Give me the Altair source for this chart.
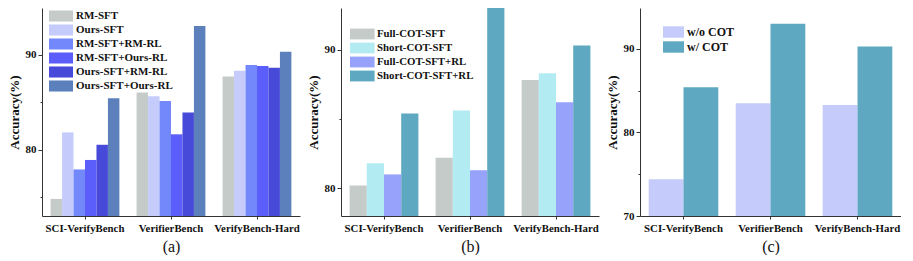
import altair as alt
import pandas as pd

categories = ["SCI-VerifyBench", "VerifierBench", "VerifyBench-Hard"]

a_series = ["RM-SFT", "Ours-SFT", "RM-SFT+RM-RL", "RM-SFT+Ours-RL", "Ours-SFT+RM-RL", "Ours-SFT+Ours-RL"]
a_colors = ["#C4CBC9", "#C5CCFB", "#7388FB", "#5B5EFA", "#4749D9", "#5C80BB"]
a_values = [
    [74.8, 86.0, 87.7],
    [81.8, 85.6, 88.3],
    [77.9, 85.1, 88.9],
    [78.9, 81.6, 88.8],
    [80.5, 83.9, 88.6],
    [85.4, 93.0, 90.3],
]

b_series = ["Full-COT-SFT", "Short-COT-SFT", "Full-COT-SFT+RL", "Short-COT-SFT+RL"]
b_colors = ["#C4CBC9", "#B3EBF2", "#97A3FB", "#5EA8C1"]
b_values = [
    [80.2, 82.2, 87.8],
    [81.8, 85.6, 88.3],
    [81.0, 81.3, 86.2],
    [85.4, 93.0, 90.3],
]

c_series = ["w/o COT", "w/ COT"]
c_colors = ["#C5CCFB", "#5EA8C1"]
c_values = [
    [74.4, 83.5, 83.3],
    [85.4, 93.0, 90.3],
]

SERIF = "Liberation Serif"
AXIS_COLOR = "#333333"


def make_df(series, values):
    rows = []
    for s, vals in zip(series, values):
        for cat, v in zip(categories, vals):
            rows.append({"category": cat, "series": s, "value": v})
    return pd.DataFrame(rows)


def panel(series, colors, values, domain, tick_vals, label, legend_cfg, width=258):
    df = make_df(series, values)
    y_axis = alt.Axis(
        title="Accuracy(%)",
        values=tick_vals,
        labelExpr="datum.value % 10 === 0 ? datum.label : ''",
        tickSize={"condition": {"test": "datum.value % 10 === 0", "value": 4}, "value": 2},
        grid=False,
        labelFont=SERIF, labelFontWeight="bold", labelFontSize=11, labelColor="#111",
        titleFont=SERIF, titleFontWeight="bold", titleFontSize=13, titleColor="#111",
        labelPadding=2, titlePadding=4,
        domainColor=AXIS_COLOR, tickColor=AXIS_COLOR,
    )
    x_axis = alt.Axis(
        title=label, labelAngle=0, grid=False,
        labelFont=SERIF, labelFontWeight="bold", labelFontSize=10.8, labelColor="#111",
        titleFont=SERIF, titleFontWeight="normal", titleFontSize=16, titleColor="#111",
        labelPadding=3, titlePadding=6, tickSize=3,
        domainColor=AXIS_COLOR, tickColor=AXIS_COLOR,
    )
    legend = alt.Legend(
        title=None, orient="none",
        legendX=legend_cfg["x"], legendY=legend_cfg["y"],
        symbolType=legend_cfg["path"], symbolSize=144, symbolStrokeWidth=0,
        symbolOpacity=1,
        labelFont=SERIF, labelFontWeight="bold", labelFontSize=legend_cfg["fs"],
        labelColor="#111", labelOffset=legend_cfg["lo"], rowPadding=legend_cfg["rp"],
        padding=0,
    )
    return alt.Chart(df).mark_bar().encode(
        x=alt.X("category:N", sort=categories,
                scale=alt.Scale(paddingInner=0.2, paddingOuter=0.1), axis=x_axis),
        xOffset=alt.XOffset("series:N", sort=series,
                            scale=alt.Scale(domain=series, paddingInner=0, paddingOuter=0)),
        y=alt.Y("value:Q", scale=alt.Scale(domain=domain, zero=False, nice=False), axis=y_axis),
        y2=alt.datum(domain[0]),
        color=alt.Color("series:N", sort=series,
                        scale=alt.Scale(domain=series, range=colors), legend=legend),
    ).properties(width=width, height=208)


pa = panel(a_series, a_colors, a_values, [73.0, 94.9], [75, 80, 85, 90], "(a)",
           {"x": 7, "y": 2, "path": "M-1,-0.92H3V0.92H-1Z", "fs": 11, "lo": 15, "rp": 2})
pb = panel(b_series, b_colors, b_values, [78.0, 93.0], [80, 85, 90], "(b)",
           {"x": 9, "y": 20, "path": "M-1,-0.9H3.1V0.9H-1Z", "fs": 10.8, "lo": 15, "rp": 2})
pc = panel(c_series, c_colors, c_values, [70.0, 94.9], [70, 75, 80, 85, 90], "(c)",
           {"x": 23, "y": 18, "path": "M-1,-0.95H2.5V0.95H-1Z", "fs": 12, "lo": 12, "rp": 3},
           width=261)

chart = alt.hconcat(pa, pb, pc, spacing=41, bounds="flush").resolve_scale(
    color="independent", xOffset="independent", x="independent", y="independent"
).resolve_legend(color="independent").properties(
    padding={"left": 0, "top": 0, "right": 0, "bottom": 0}
).configure_view(stroke=None)

chart.save("out.html", embed_options={"renderer": "svg", "actions": False})
